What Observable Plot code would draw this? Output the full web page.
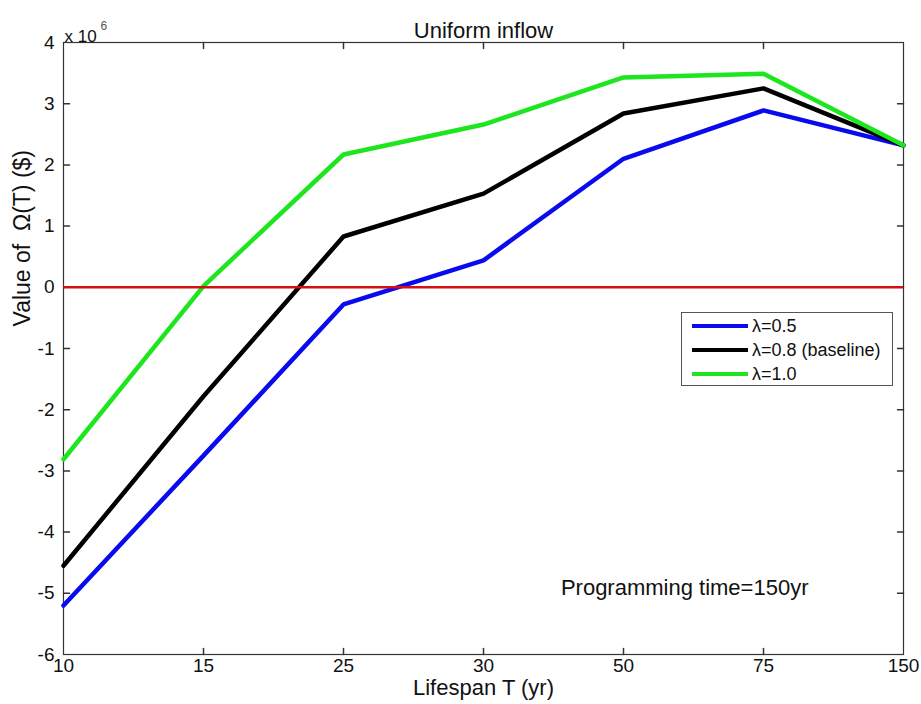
<!DOCTYPE html>
<html>
<head>
<meta charset="utf-8">
<script src="https://cdn.jsdelivr.net/npm/d3@7"></script>
<script src="https://cdn.jsdelivr.net/npm/@observablehq/plot@0.6"></script>
<style>
  body { margin: 0; background: #fff; font-family: "Liberation Sans", Arial, sans-serif; }
  #wrap { position: relative; width: 921px; height: 704px; }
  #legend { position: absolute; left: 681px; top: 312px; width: 212px; height: 74px;
    border: 1px solid #555; background: #fff; box-sizing: border-box; font-size: 18px; color: #111; }
  .row { position: absolute; left: 10px; height: 20px; display: flex; align-items: center; white-space: nowrap; }
  .sw { width: 56px; height: 4px; margin-right: 4px; }
</style>
</head>
<body>
<div id="wrap"></div>
<script>
const lifespans = ["10", "15", "25", "30", "50", "75", "150"];
const lambda05 = [-5.2, -2.75, -0.28, 0.44, 2.10, 2.89, 2.32];
const lambda08 = [-4.55, -1.78, 0.83, 1.53, 2.84, 3.25, 2.32];
const lambda10 = [-2.81, 0.02, 2.17, 2.66, 3.43, 3.49, 2.32];
const seriesNames = ["λ=0.5", "λ=0.8 (baseline)", "λ=1.0"];
const seriesColors = ["#0a0aee", "#000000", "#1ee61e"];
const yTicks = [-6, -5, -4, -3, -2, -1, 0, 1, 2, 3, 4];

const allSeries = [lambda05, lambda08, lambda10];
const data = allSeries.flatMap((vals, i) =>
  vals.map((v, j) => ({ T: lifespans[j], v, s: seriesNames[i] })));

const tickShape = { draw(ctx, l) { ctx.moveTo(0, 0); ctx.lineTo(0, -l); } };
const font = "Liberation Sans, Arial, sans-serif";

const chart = Plot.plot({
  width: 921, height: 704,
  marginLeft: 63, marginRight: 18, marginTop: 42, marginBottom: 50,
  style: { fontFamily: font, fontSize: "19px", color: "#111", background: "#fff" },
  x: { type: "point", domain: lifespans, padding: 0 },
  y: { domain: [-6, 4] },
  color: { domain: seriesNames, range: seriesColors },
  marks: [
    Plot.frame({ stroke: "#333", strokeWidth: 1.2 }),
    // tick labels
    Plot.axisX({ tickSize: 0, tickPadding: 4, fontSize: 19, label: null }),
    Plot.axisY({ ticks: yTicks, tickSize: 0, tickPadding: 9, fontSize: 19, label: null, tickFormat: d => String(d) }),
    // inward ticks (all four sides)
    Plot.vector(yTicks.slice(1, -1), { y: d => d, frameAnchor: "left", rotate: 90, length: 6, anchor: "start", shape: tickShape, stroke: "#333" }),
    Plot.vector(yTicks.slice(1, -1), { y: d => d, frameAnchor: "right", rotate: -90, length: 6, anchor: "start", shape: tickShape, stroke: "#333" }),
    Plot.vector(lifespans.slice(1, -1), { x: d => d, frameAnchor: "bottom", rotate: 0, length: 6, anchor: "start", shape: tickShape, stroke: "#333" }),
    Plot.vector(lifespans.slice(1, -1), { x: d => d, frameAnchor: "top", rotate: 180, length: 6, anchor: "start", shape: tickShape, stroke: "#333" }),
    // data lines
    Plot.line(data, { x: "T", y: "v", z: "s", stroke: "s", strokeWidth: 4.5, strokeLinejoin: "miter" }),
    Plot.ruleY([0], { stroke: "#d41010", strokeWidth: 2.5 }),
    // texts
    Plot.text(["Uniform inflow"], { frameAnchor: "top", dy: -20, fontSize: 22 }),
    Plot.text(["Lifespan T (yr)"], { frameAnchor: "bottom", dy: 40, fontSize: 22 }),
    Plot.text(["Value of  Ω(T) ($)"], { frameAnchor: "left", dx: -41, dy: -22, rotate: -90, fontSize: 23 }),
    Plot.text(["x 10"], { frameAnchor: "top-left", dx: 1, dy: -13, textAnchor: "start", fontSize: 17 }),
    Plot.text(["6"], { frameAnchor: "top-left", dx: 37, dy: -21, textAnchor: "start", fontSize: 12, fill: "#555" }),
    Plot.text(["Programming time=150yr"], { frameAnchor: "bottom-right", dx: -95, dy: -60, textAnchor: "end", fontSize: 22 })
  ]
});

const wrap = document.getElementById("wrap");
wrap.appendChild(chart);

const legend = document.createElement("div");
legend.id = "legend";
seriesNames.forEach((name, i) => {
  const row = document.createElement("div");
  row.className = "row";
  row.style.top = (3 + i * 24) + "px";
  const sw = document.createElement("div");
  sw.className = "sw";
  sw.style.background = seriesColors[i];
  const label = document.createElement("span");
  label.textContent = name;
  row.appendChild(sw);
  row.appendChild(label);
  legend.appendChild(row);
});
wrap.appendChild(legend);
</script>
</body>
</html>
